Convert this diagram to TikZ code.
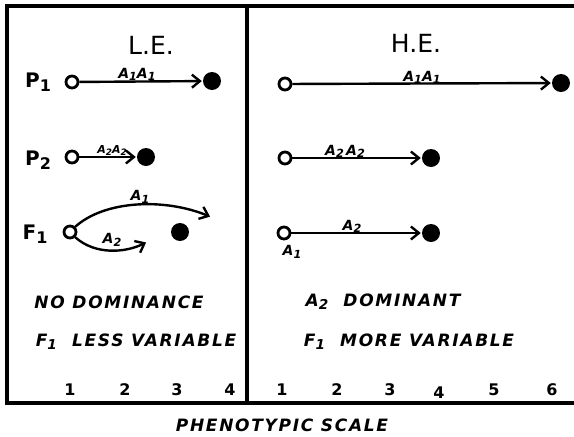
\documentclass[tikz,border=0pt]{standalone}
\usepackage{fontspec}
\setmainfont{DejaVu Sans}
\usetikzlibrary{arrows.meta}
\newcommand\lsub[1]{\raisebox{-0.35ex}{\scalebox{0.8}{#1}}}
\begin{document}
\begin{tikzpicture}[x=1pt,y=-1pt,
 frame/.style={line width=3.2pt},
 opendot/.style={circle,draw,line width=2.8pt,minimum size=12pt,inner sep=0pt},
 fulldot/.style={circle,fill,minimum size=18pt,inner sep=0pt},
 arr/.style={line width=2.4pt,shorten >=1pt,-{Straight Barb[length=8pt,width=13pt,line width=2.4pt]}},
 title/.style={font=\fontsize{25}{25}\selectfont,inner sep=0pt},
 gen/.style={font=\bfseries\fontsize{20}{20}\selectfont,inner sep=0pt},
 lab/.style={font=\bfseries\itshape\fontsize{14}{14}\selectfont,inner sep=0pt},
 captxt/.style={font=\bfseries\itshape\fontsize{17}{17}\selectfont\addfontfeature{LetterSpace=10},inner sep=0pt},
 num/.style={font=\bfseries\fontsize{16}{16}\selectfont,inner sep=0pt}]
\useasboundingbox (0,0) rectangle (574,437);
% frame
\draw[frame] (576,6) -- (7,6) -- (7,403) -- (576,403);
\draw[frame] (247,6) -- (247,403);
% titles
\node[title] (le) at (151,45) {L.E.};
\node[title] (he) at (416,43) {H.E.};
% generation labels
\node[gen] (p1) at (38,82) {P\lsub{1}};
\node[gen] (p2) at (38,160) {P\lsub{2}};
\node[gen] (f1) at (35,234) {F\lsub{1}};
% left panel
\node[opendot] (lo1) at (72,82) {};
\node[fulldot] (lf1) at (212,81) {};
\draw[arr] (lo1) -- (lf1);
\node[lab,anchor=south] (ll1) at (137,81) {A\lsub{1}A\lsub{1}};
\node[opendot] (lo2) at (72,157) {};
\node[fulldot] (lf2) at (146,157) {};
\draw[arr] (lo2) -- (lf2);
\node[lab,anchor=south,font=\bfseries\itshape\fontsize{11}{11}\selectfont] (ll2) at (112,156) {A\lsub{2}A\lsub{2}};
\node[opendot] (lo3) at (70,232) {};
\node[fulldot] (lf3) at (180,232) {};
\coordinate (up) at (211,217);
\coordinate (dn) at (147,242);
\draw[arr] (lo3.north east) .. controls (105,200) and (165,198) .. (up);
\draw[arr] (lo3.south east) .. controls (95,255) and (125,253) .. (dn);
\node[lab] (ll3a) at (140,197) {A\lsub{1}};
\node[lab] (ll3b) at (112,240) {A\lsub{2}};
% right panel
\node[opendot] (ro1) at (285,84) {};
\node[fulldot] (rf1) at (561,83) {};
\draw[arr] (ro1) -- (rf1);
\node[lab,anchor=south] (rl1) at (422,84) {A\lsub{1}A\lsub{1}};
\node[opendot] (ro2) at (285,158) {};
\node[fulldot] (rf2) at (431,158) {};
\draw[arr] (ro2) -- (rf2);
\node[lab,anchor=south] (rl2) at (345,158) {A\lsub{2}\,A\lsub{2}};
\node[opendot] (ro3) at (284,233) {};
\node[fulldot] (rf3) at (431,233) {};
\draw[arr] (ro3) -- (rf3);
\node[lab,anchor=south] (rl3) at (352,233) {A\lsub{2}};
\node[lab] (rl3b) at (292,252) {A\lsub{1}};
% captions
\node[captxt] (c1) at (119,302) {NO DOMINANCE};
\node[captxt] (c2) at (136,342) {F\lsub{1} \ LESS VARIABLE};
\node[captxt] (c3) at (383,302) {A\lsub{2} \ DOMINANT};
\node[captxt] (c4) at (409,342) {F\lsub{1} \ MORE VARIABLE};
% scale numbers
\foreach \x/\n in {70/1,125/2,177/3,230/4,282/1,337/2,390/3,494/5,552/6}
  \node[num] (n\x) at (\x,390) {\n};
\node[num] (n439) at (439,393) {4};
\node[captxt] (ps) at (282,425) {PHENOTYPIC SCALE};
\end{tikzpicture}
\end{document}
